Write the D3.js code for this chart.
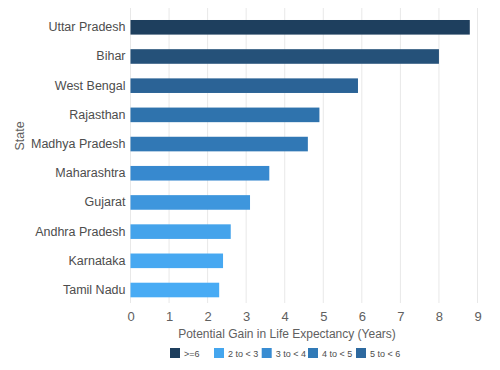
<!DOCTYPE html>
<html>
<head>
<meta charset="utf-8">
<script src="https://cdn.jsdelivr.net/npm/d3@7"></script>
<style>
  body { margin: 0; background: #fff; }
  text { font-family: "Liberation Sans", Arial, sans-serif; }
</style>
</head>
<body>
<div id="chart"></div>
<script>
// data
var states = ["Uttar Pradesh", "Bihar", "West Bengal", "Rajasthan", "Madhya Pradesh",
              "Maharashtra", "Gujarat", "Andhra Pradesh", "Karnataka", "Tamil Nadu"];
var gains = [8.8, 8.0, 5.9, 4.9, 4.6, 3.6, 3.1, 2.6, 2.4, 2.3];
var xTicks = [0, 1, 2, 3, 4, 5, 6, 7, 8, 9];
var legendLabels = [">=6", "2 to < 3", "3 to < 4", "4 to < 5", "5 to < 6"];
var legendValues = [8.8, 2.5, 3.5, 4.5, 5.5];

var width = 500, height = 370;
var plot = {left: 130.5, right: 477.5, top: 8, bottom: 303};

var svg = d3.select("#chart").append("svg")
    .attr("width", width)
    .attr("height", height);

var x = d3.scaleLinear()
    .domain([0, 9])
    .range([plot.left, plot.right]);

var y = d3.scaleBand()
    .domain(states)
    .range([12.7, 304.6])
    .paddingInner(0.5)
    .paddingOuter(0.25);

// continuous shading, light blue for small gains to navy for large
var colour = d3.scaleLinear()
    .domain([2.3, 3.6, 4.9, 5.9, 8.0, 8.8])
    .range(["#48abf4", "#3789cf", "#2f73ad", "#2b6396", "#255179", "#1e3f5e"]);

//gridlines
svg.append("g")
    .selectAll("line")
    .data(xTicks)
    .enter().append("line")
    .attr("x1", function(d) { return x(d); })
    .attr("x2", function(d) { return x(d); })
    .attr("y1", plot.top)
    .attr("y2", plot.bottom)
    .attr("stroke", "#e8e8e8")
    .attr("stroke-width", 1);

//bars
svg.append("g")
    .selectAll("rect")
    .data(states)
    .enter().append("rect")
    .attr("x", x(0))
    .attr("y", function(d) { return y(d); })
    .attr("width", function(d, i) { return x(gains[i]) - x(0); })
    .attr("height", y.bandwidth())
    .attr("fill", function(d, i) { return colour(gains[i]); });

//y axis labels
var yAxis = svg.append("g")
    .attr("transform", "translate(" + plot.left + ",0)")
    .call(d3.axisLeft(y).tickSize(0).tickPadding(5));
yAxis.select(".domain").remove();
yAxis.selectAll("text")
    .attr("fill", "#4d4d4d")
    .style("font-size", "12.5px");

//x axis labels
var xAxis = svg.append("g")
    .attr("transform", "translate(0," + plot.bottom + ")")
    .call(d3.axisBottom(x).tickValues(xTicks).tickSize(0).tickPadding(9));
xAxis.select(".domain").remove();
xAxis.selectAll("text")
    .attr("fill", "#606060")
    .style("font-size", "13px");

//axis titles
svg.append("text")
    .attr("x", 287)
    .attr("y", 338)
    .attr("text-anchor", "middle")
    .attr("fill", "#606060")
    .style("font-size", "12px")
    .text("Potential Gain in Life Expectancy (Years)");

svg.append("text")
    .attr("transform", "translate(24,136) rotate(-90)")
    .attr("text-anchor", "middle")
    .attr("fill", "#606060")
    .style("font-size", "12.5px")
    .text("State");

//legend
var legendX = [170, 214, 261.7, 308, 356];
var legend = svg.append("g")
    .selectAll("g")
    .data(legendLabels)
    .enter().append("g")
    .attr("transform", function(d, i) { return "translate(" + legendX[i] + ",348)"; });

legend.append("rect")
    .attr("width", 10)
    .attr("height", 10)
    .attr("fill", function(d, i) { return colour(legendValues[i]); });

legend.append("text")
    .attr("x", 14)
    .attr("y", 9)
    .attr("fill", "#4d4d4d")
    .style("font-size", "9px")
    .text(function(d) { return d; });
</script>
</body>
</html>
